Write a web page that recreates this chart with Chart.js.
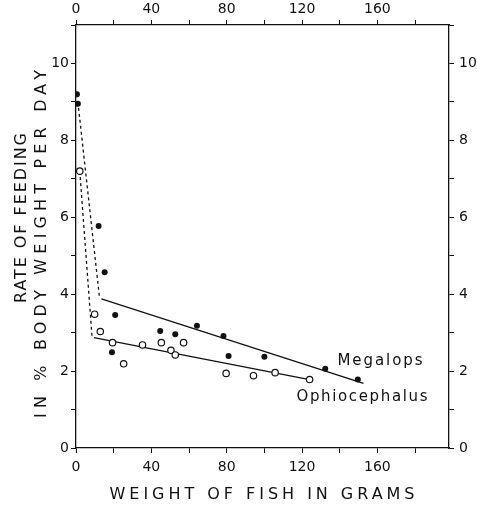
<!DOCTYPE html>
<html>
<head>
<meta charset="utf-8">
<script src="https://cdn.jsdelivr.net/npm/chart.js@4.4.1/dist/chart.umd.min.js"></script>
<style>
  html, body { margin: 0; padding: 0; background: #fff; }
</style>
</head>
<body>
<canvas id="chart" width="477" height="505"></canvas>
<script>
// weight of fish (g) and rate of feeding (% body weight / day)
const megalopsWeight = [0.5, 1, 12, 15.2, 20.8, 19.1, 44.7, 52.7, 64.2, 78.3, 81, 100, 132.3, 149.6]
const megalopsRate = [9.2, 8.95, 5.77, 4.57, 3.46, 2.49, 3.04, 2.96, 3.18, 2.91, 2.39, 2.37, 2.06, 1.78]

const ophioWeight = [2, 9.9, 12.9, 19.4, 25.3, 35.3, 45.3, 50.4, 52.7, 57.1, 79.7, 94.2, 105.7, 124]
const ophioRate = [7.2, 3.48, 3.03, 2.74, 2.19, 2.68, 2.74, 2.54, 2.42, 2.74, 1.94, 1.88, 1.96, 1.78]

// fitted lines: dashed part then solid part
const megalopsDashX = [1, 12.5]
const megalopsDashY = [9.0, 3.9]
const megalopsLineX = [13.5, 152.6]
const megalopsLineY = [3.88, 1.68]

const ophioDashX = [2, 8.5]
const ophioDashY = [7.2, 2.9]
const ophioLineX = [9.5, 124]
const ophioLineY = [2.87, 1.78]

const xTickLabels = [0, 40, 80, 120, 160]
const yTickLabels = [0, 2, 4, 6, 8, 10]

const ink = "#111"
const tickFont = { family: "'DejaVu Sans', sans-serif", size: 14 }

const toPoints = (xs, ys) => xs.map((x, i) => ({ x: x, y: ys[i] }))

const lineSet = (xs, ys, dashed) => ({
  data: toPoints(xs, ys),
  showLine: true,
  borderColor: ink,
  borderWidth: 1.3,
  borderDash: dashed ? [3, 3] : [],
  pointRadius: 0,
  order: 2,
})

// draws spaced-out text so it fills a given width
const drawSpaced = (ctx, text, cx, cy, width, font, rotate) => {
  ctx.save()
  ctx.font = font
  ctx.letterSpacing = "0px"
  const w = ctx.measureText(text).width
  ctx.letterSpacing = (width - w) / (text.length - 1) + "px"
  ctx.fillStyle = ink
  ctx.textAlign = "left"
  ctx.textBaseline = "middle"
  ctx.translate(cx, cy)
  if (rotate) ctx.rotate(-Math.PI / 2)
  ctx.fillText(text, -width / 2, 0)
  ctx.restore()
}

const labelsPlugin = {
  id: "labels",
  afterDraw: (chart) => {
    const ctx = chart.ctx
    const titleFont = "16px 'DejaVu Sans', sans-serif"
    drawSpaced(ctx, "RATE OF FEEDING", 22, 218, 170, titleFont, true)
    drawSpaced(ctx, "IN % BODY WEIGHT PER DAY", 42, 244, 348, titleFont, true)
    drawSpaced(ctx, "WEIGHT OF FISH IN GRAMS", 262, 495, 305, titleFont, false)
    const nameFont = "15px 'DejaVu Sans', sans-serif"
    drawSpaced(ctx, "Megalops", 380, 361, 85, nameFont, false)
    drawSpaced(ctx, "Ophiocephalus", 362, 397, 131, nameFont, false)
  },
}

const xAxis = (position, size) => ({
  type: "linear",
  position: position,
  min: 0,
  max: 198,
  afterFit: (scale) => { scale.height = size },
  border: { display: true, color: ink, width: 1.3 },
  grid: { drawOnChartArea: false, drawTicks: true, tickLength: 5, color: ink, lineWidth: 1 },
  ticks: {
    stepSize: 20,
    includeBounds: false,
    autoSkip: false,
    maxRotation: 0,
    padding: position === "bottom" ? 6 : 2,
    color: ink,
    font: tickFont,
    callback: (v) => (xTickLabels.includes(v) ? v : ""),
  },
})

const yAxis = (position, size) => ({
  type: "linear",
  position: position,
  min: 0,
  max: 11,
  afterFit: (scale) => { scale.width = size },
  border: { display: true, color: ink, width: 1.3 },
  grid: { drawOnChartArea: false, drawTicks: true, tickLength: 5, color: ink, lineWidth: 1 },
  ticks: {
    stepSize: 1,
    includeBounds: false,
    autoSkip: false,
    padding: position === "left" ? 2 : 5,
    color: ink,
    font: tickFont,
    callback: (v) => (yTickLabels.includes(v) ? v : ""),
  },
})

new Chart(document.getElementById("chart"), {
  type: "scatter",
  data: {
    datasets: [
      {
        label: "Megalops",
        data: toPoints(megalopsWeight, megalopsRate),
        pointRadius: 3,
        pointBackgroundColor: ink,
        pointBorderColor: ink,
        pointBorderWidth: 0,
        order: 1,
      },
      {
        label: "Ophiocephalus",
        data: toPoints(ophioWeight, ophioRate),
        pointRadius: 3.2,
        pointBackgroundColor: "#fff",
        pointBorderColor: ink,
        pointBorderWidth: 1.2,
        order: 1,
      },
      lineSet(megalopsDashX, megalopsDashY, true),
      lineSet(megalopsLineX, megalopsLineY, false),
      lineSet(ophioDashX, ophioDashY, true),
      lineSet(ophioLineX, ophioLineY, false),
    ],
  },
  options: {
    responsive: false,
    animation: false,
    layout: { padding: 0 },
    plugins: {
      legend: { display: false },
      tooltip: { enabled: false },
    },
    scales: {
      x: xAxis("bottom", 57),
      x2: xAxis("top", 25),
      y: yAxis("left", 76),
      y2: yAxis("right", 28),
    },
  },
  plugins: [labelsPlugin],
})
</script>
</body>
</html>
